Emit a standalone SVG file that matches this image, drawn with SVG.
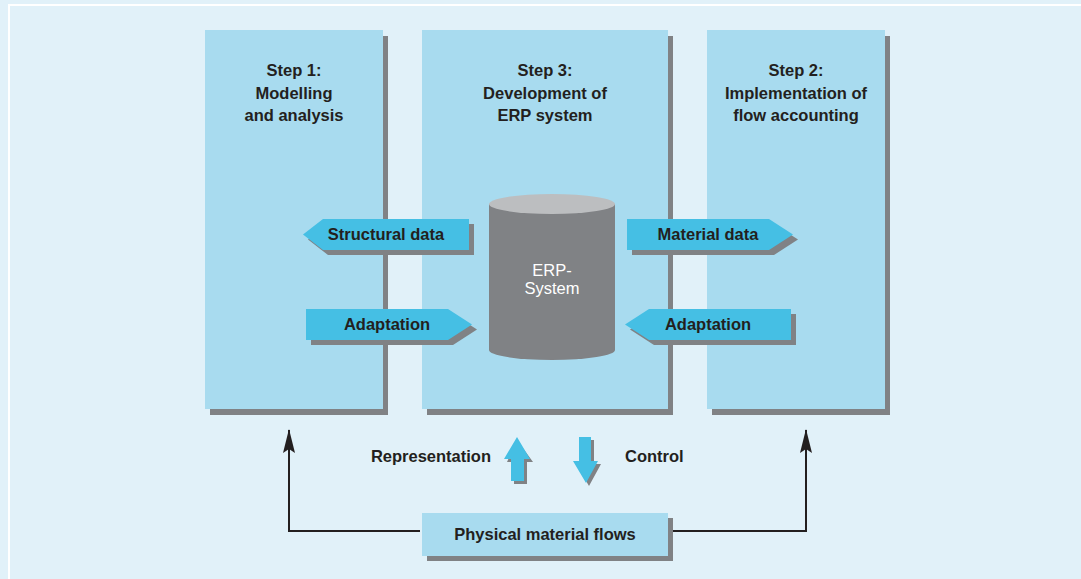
<svg xmlns="http://www.w3.org/2000/svg" width="1081" height="579" viewBox="0 0 1081 579">
<style>
.panel{fill:#A8DBEF}
.shadow{fill:#808285}
.cyan{fill:#45BFE4}
.t{font-family:"Liberation Sans",Arial,sans-serif;font-size:16.5px;font-weight:bold;fill:#231F20;text-anchor:middle}
.w{font-family:"Liberation Sans",Arial,sans-serif;font-size:16.5px;fill:#FFFFFF;text-anchor:middle}
.line{fill:none;stroke:#231F20;stroke-width:2}
</style>
<defs>
<marker id="ah" viewBox="0 0 24 12" refX="23" refY="6" markerWidth="24" markerHeight="12" markerUnits="userSpaceOnUse" orient="auto">
<path d="M24,6 L0,0 L4,6 L0,12 Z" fill="#231F20"/>
</marker>
</defs>
<rect x="0" y="0" width="1081" height="579" fill="#E1F1F9"/>
<rect x="9" y="5" width="1080" height="580" fill="none" stroke="#FFFFFF" stroke-width="2"/>

<g id="step1">
<rect class="shadow" x="210" y="36" width="178" height="379"/>
<rect class="panel" x="205" y="30" width="178" height="379"/>
<text class="t" x="294" y="76">Step 1:</text>
<text class="t" x="294" y="99">Modelling</text>
<text class="t" x="294" y="121">and analysis</text>
</g>

<g id="step3">
<rect class="shadow" x="427" y="36" width="246" height="379"/>
<rect class="panel" x="422" y="30" width="246" height="379"/>
<text class="t" x="545" y="76">Step 3:</text>
<text class="t" x="545" y="99">Development of</text>
<text class="t" x="545" y="121">ERP system</text>
</g>

<g id="step2">
<rect class="shadow" x="712" y="36" width="178" height="379"/>
<rect class="panel" x="707" y="30" width="178" height="379"/>
<text class="t" x="796" y="76">Step 2:</text>
<text class="t" x="796" y="99">Implementation of</text>
<text class="t" x="796" y="121">flow accounting</text>
</g>

<g id="erp">
<path d="M489,204 L489,350 A63,10 0 0 0 615,350 L615,204 Z" fill="#808285"/>
<ellipse cx="552" cy="204" rx="63" ry="10" fill="#BCBEC0"/>
<text class="w" x="552" y="276">ERP-</text>
<text class="w" x="552" y="294">System</text>
</g>

<g id="structural-data">
<polygon class="shadow" points="308,239.5 328,224 474,224 474,255 328,255"/>
<polygon class="cyan" points="303,234.5 323,219 469,219 469,250 323,250"/>
<text class="t" x="386" y="240">Structural data</text>
</g>

<g id="adaptation-left">
<polygon class="shadow" points="311,314 453,314 477,329.5 453,345 311,345"/>
<polygon class="cyan" points="306,309 448,309 472,324.5 448,340 306,340"/>
<text class="t" x="387" y="330">Adaptation</text>
</g>

<g id="material-data">
<polygon class="shadow" points="632,224 774,224 798,239.5 774,255 632,255"/>
<polygon class="cyan" points="627,219 769,219 793,234.5 769,250 627,250"/>
<text class="t" x="708" y="240">Material data</text>
</g>

<g id="adaptation-right">
<polygon class="shadow" points="630,329.5 654,314 796,314 796,345 654,345"/>
<polygon class="cyan" points="625,324.5 649,309 791,309 791,340 649,340"/>
<text class="t" x="708" y="330">Adaptation</text>
</g>

<g id="physical-flows">
<rect class="shadow" x="427" y="518" width="246" height="43"/>
<rect class="panel" x="422" y="513" width="246" height="43"/>
<text class="t" x="545" y="540">Physical material flows</text>
</g>

<g id="representation">
<polygon class="shadow" points="517,440 533,462 527,462 527,484 514,484 514,462 507,462"/>
<polygon class="cyan" points="517,437 530,459 524,459 524,481 511,481 511,459 504,459"/>
<text class="t" x="491" y="462" style="text-anchor:end">Representation</text>
</g>

<g id="control">
<polygon class="shadow" points="582,440 594,440 594,464 601,464 589,486 576,464 582,464"/>
<polygon class="cyan" points="579,437 591,437 591,461 598,461 586,483 573,461 579,461"/>
<text class="t" x="625" y="462" style="text-anchor:start">Control</text>
</g>

<g id="connectors">
<polyline class="line" points="420,531 289,531 289,430" marker-end="url(#ah)"/>
<polyline class="line" points="673,531 806,531 806,430" marker-end="url(#ah)"/>
</g>
</svg>
